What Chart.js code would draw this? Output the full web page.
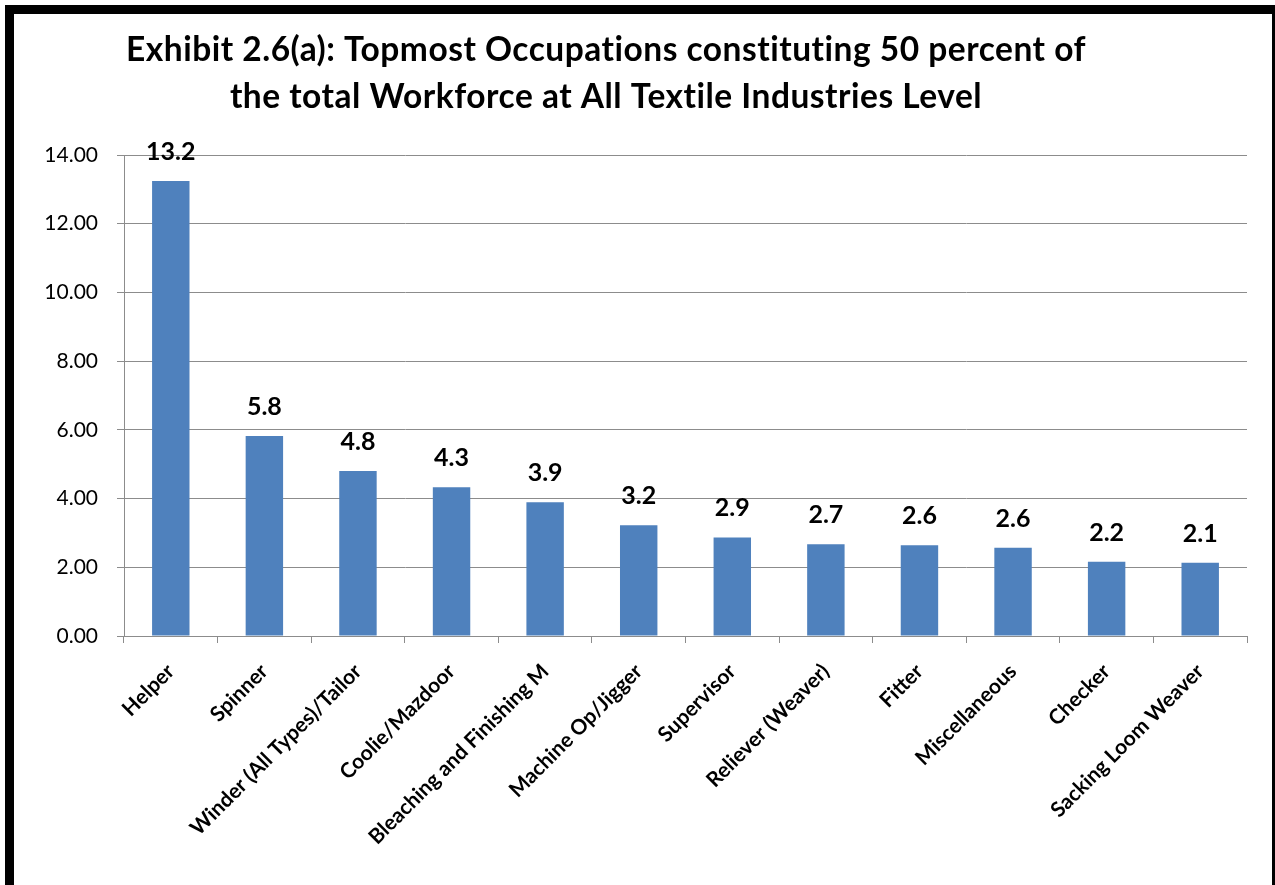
<!DOCTYPE html>
<html>
<head>
<meta charset="utf-8">
<script src="https://cdn.jsdelivr.net/npm/chart.js@4.4.1/dist/chart.umd.min.js"></script>
<style>
    html, body { margin: 0; padding: 0; background: #ffffff; }
    #wrap { position: relative; width: 1275px; height: 885px; overflow: hidden; }
    #frame {
        position: absolute;
        left: 5px;
        top: 5px;
        width: 1258px;
        height: 1000px;
        border: 9px solid #000000;
        pointer-events: none;
    }
    canvas { position: absolute; left: 0; top: 0; }
</style>
</head>
<body>
<div id="wrap">
    <canvas id="occupationChart" width="1275" height="885"></canvas>
    <div id="frame"></div>
</div>
<script>
const titleLines = [
    "Exhibit 2.6(a): Topmost Occupations constituting 50 percent of",
    "the total Workforce at All Textile Industries Level",
];
const occupations = [
    "Helper",
    "Spinner",
    "Winder (All Types)/Tailor",
    "Coolie/Mazdoor",
    "Bleaching and Finishing M",
    "Machine Op/Jigger",
    "Supervisor",
    "Reliever (Weaver)",
    "Fitter",
    "Miscellaneous",
    "Checker",
    "Sacking Loom Weaver",
];
const workforceShare = [13.24, 5.82, 4.8, 4.33, 3.89, 3.22, 2.87, 2.67, 2.64, 2.57, 2.16, 2.13];
const yTicks = [0, 2, 4, 6, 8, 10, 12, 14];

const FONT = "Lato, 'Open Sans', sans-serif";

// title is drawn by hand so it can sit off-centre like the original
const titlePlugin = {
    id: "titleLines",
    beforeDraw(chart) {
        const ctx = chart.ctx;
        ctx.save();
        ctx.font = `bold 33.5px ${FONT}`;
        ctx.letterSpacing = "0.5px";
        ctx.fillStyle = "#000000";
        ctx.textAlign = "center";
        ctx.textBaseline = "middle";
        titleLines.forEach((line, i) => {
            ctx.fillText(line, 606, 50 + i * 47);
        });
        ctx.restore();
    },
};

const valueLabels = {
    id: "valueLabels",
    afterDatasetsDraw(chart) {
        const ctx = chart.ctx;
        const meta = chart.getDatasetMeta(0);
        ctx.save();
        ctx.font = `bold 25px ${FONT}`;
        ctx.fillStyle = "#000000";
        ctx.textAlign = "center";
        ctx.textBaseline = "alphabetic";
        meta.data.forEach((bar, i) => {
            ctx.fillText(workforceShare[i].toFixed(1), bar.x, bar.y - 21);
        });
        ctx.restore();
    },
};

const ctx = document.getElementById("occupationChart").getContext("2d");
new Chart(ctx, {
    type: "bar",
    data: {
        labels: occupations,
        datasets: [
            {
                data: workforceShare,
                backgroundColor: "#4f81bd",
                borderWidth: 0,
                categoryPercentage: 1,
                barPercentage: 0.4,
            },
        ],
    },
    options: {
        responsive: false,
        animation: false,
        layout: {
            padding: { top: 155, right: 28, bottom: 0, left: 0 },
        },
        plugins: {
            legend: { display: false },
            tooltip: { enabled: false },
        },
        scales: {
            y: {
                min: 0,
                max: 14,
                afterBuildTicks(scale) {
                    scale.ticks = yTicks.map((v) => ({ value: v }));
                },
                afterFit(scale) {
                    scale.width = 124;
                },
                ticks: {
                    padding: 19,
                    color: "#000000",
                    font: { family: FONT, size: 21 },
                    callback: (value) => Number(value).toFixed(2),
                },
                grid: {
                    color: "#8c8c8c",
                    lineWidth: 1,
                    tickLength: 7,
                },
                border: { color: "#8c8c8c", width: 1 },
            },
            x: {
                afterFit(scale) {
                    scale.height = 249;
                },
                ticks: {
                    minRotation: 45,
                    maxRotation: 45,
                    autoSkip: false,
                    padding: 16,
                    color: "#000000",
                    font: { family: FONT, size: 21, weight: "bold" },
                },
                grid: {
                    drawOnChartArea: false,
                    drawTicks: true,
                    tickLength: 7,
                    color: "#8c8c8c",
                },
                border: { color: "#8c8c8c", width: 1 },
            },
        },
    },
    plugins: [titlePlugin, valueLabels],
});
</script>
</body>
</html>
